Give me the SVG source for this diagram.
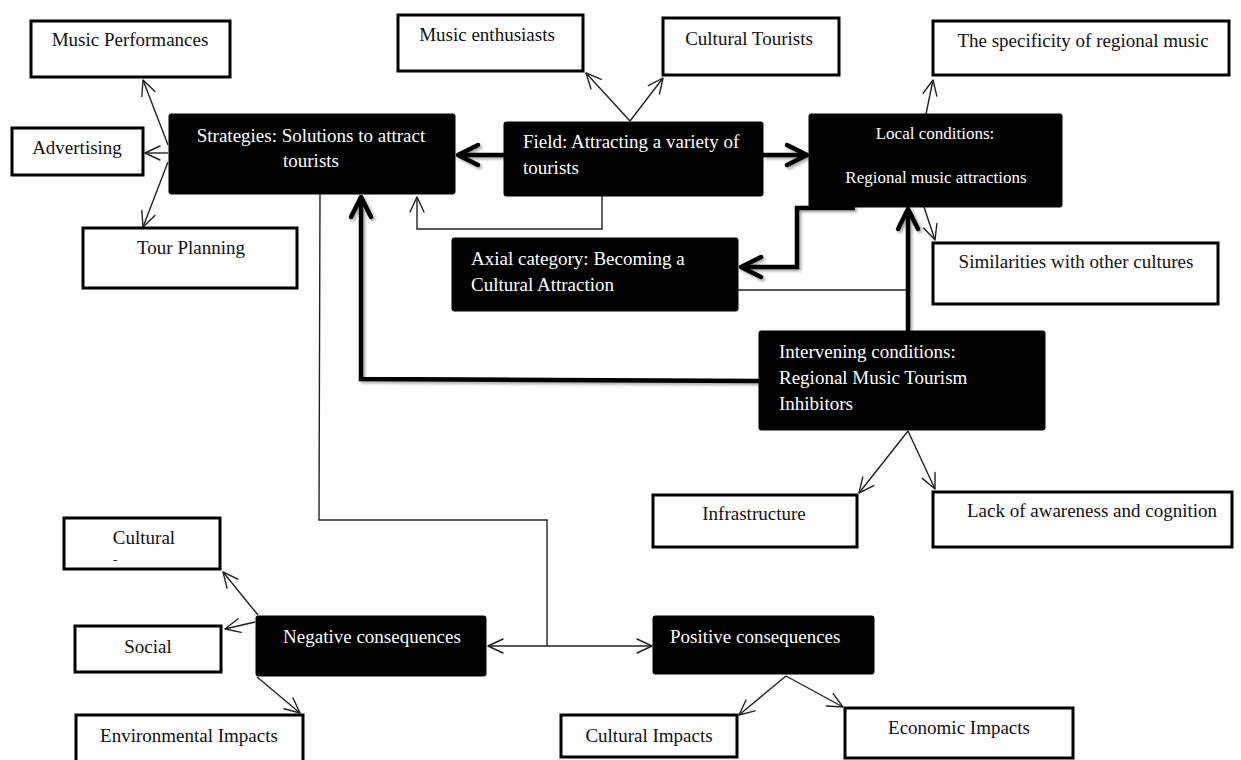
<svg xmlns="http://www.w3.org/2000/svg" width="1241" height="760" viewBox="0 0 1241 760">
<style>
  .wbox { fill: #ffffff; stroke: #000000; stroke-width: 3; }
  .bbox { fill: #000000; stroke: #000000; stroke-width: 1; }
  .t { font-family: "Liberation Serif", "Times New Roman", serif; font-size: 19px; fill: #111111; }
  .tw { font-family: "Liberation Serif", "Times New Roman", serif; font-size: 19px; fill: #ffffff; }
  .ts { font-size: 17px; }
  .c { text-anchor: middle; }
  .thin { fill: none; stroke: #222222; stroke-width: 1.4; }
  .thick { fill: none; stroke: #000000; stroke-width: 4.5; }
</style>
<defs>
  <marker id="ah" viewBox="-17 -10 20 20" markerWidth="20" markerHeight="20" refX="0" refY="0" markerUnits="userSpaceOnUse" orient="auto-start-reverse">
    <path d="M -15 -7 L 0 0 L -15 7" fill="none" stroke="#222222" stroke-width="1.4" stroke-linejoin="round" stroke-linecap="round"/>
  </marker>
  <marker id="ahk" viewBox="-26 -14 30 28" markerWidth="30" markerHeight="28" refX="0" refY="0" markerUnits="userSpaceOnUse" orient="auto">
    <path d="M -20 -10 L 0 0 L -20 10" fill="none" stroke="#000000" stroke-width="4.5" stroke-linejoin="round" stroke-linecap="round"/>
  </marker>
  <filter id="sh" x="-20%" y="-20%" width="140%" height="140%">
    <feDropShadow dx="2" dy="2" stdDeviation="1.5" flood-color="#000000" flood-opacity="0.35"/>
  </filter>
</defs>

<g id="connectors">
  <!-- Strategies to its children -->
  <line class="thin" x1="168" y1="145" x2="143" y2="80" marker-end="url(#ah)"/>
  <line class="thin" x1="168" y1="153" x2="145" y2="153" marker-end="url(#ah)"/>
  <line class="thin" x1="168" y1="162" x2="143" y2="227" marker-end="url(#ah)"/>
  <!-- Field to its children -->
  <line class="thin" x1="630" y1="121" x2="586" y2="73" marker-end="url(#ah)"/>
  <line class="thin" x1="630" y1="121" x2="663" y2="78" marker-end="url(#ah)"/>
  <!-- Field bottom back to Strategies -->
  <path class="thin" d="M 602 196 L 602 229 L 417 229 L 417 197" marker-end="url(#ah)"/>
  <!-- Local conditions to its children -->
  <line class="thin" x1="926" y1="114" x2="933" y2="80" marker-end="url(#ah)"/>
  <line class="thin" x1="924" y1="207" x2="935" y2="240" marker-end="url(#ah)"/>
  <!-- Axial to intervening vertical -->
  <line class="thin" x1="738" y1="290" x2="908" y2="290"/>
  <!-- Intervening to children -->
  <line class="thin" x1="908" y1="431" x2="859" y2="493" marker-end="url(#ah)"/>
  <line class="thin" x1="908" y1="431" x2="935" y2="489" marker-end="url(#ah)"/>
  <!-- Strategies down to consequences -->
  <path class="thin" d="M 320 194 L 319 520 L 547 520 L 547 646"/>
  <line class="thin" x1="488" y1="646" x2="652" y2="646" marker-start="url(#ah)" marker-end="url(#ah)"/>
  <!-- Negative consequences children -->
  <line class="thin" x1="258" y1="615" x2="223" y2="572" marker-end="url(#ah)"/>
  <line class="thin" x1="255" y1="622" x2="225" y2="629" marker-end="url(#ah)"/>
  <line class="thin" x1="257" y1="677" x2="300" y2="713" marker-end="url(#ah)"/>
  <!-- Positive consequences children -->
  <line class="thin" x1="786" y1="676" x2="739" y2="715" marker-end="url(#ah)"/>
  <line class="thin" x1="786" y1="676" x2="843" y2="707" marker-end="url(#ah)"/>
  <!-- Thick connectors -->
  <g filter="url(#sh)">
    <line class="thick" x1="504" y1="155" x2="458" y2="155" marker-end="url(#ahk)"/>
    <line class="thick" x1="763" y1="155" x2="807" y2="155" marker-end="url(#ahk)"/>
    <path class="thick" d="M 855 208 L 797 208 L 797 267 L 741 267" marker-end="url(#ahk)"/>
    <line class="thick" x1="908" y1="331" x2="908" y2="209" marker-end="url(#ahk)"/>
    <path class="thick" d="M 759 381 L 361 379 L 361 197" marker-end="url(#ahk)"/>
  </g>
</g>

<g id="music-performances">
  <rect class="wbox" x="31" y="21" width="199" height="56"/>
  <text class="t c" x="130" y="46">Music Performances</text>
</g>
<g id="advertising">
  <rect class="wbox" x="12" y="128" width="131" height="47"/>
  <text class="t c" x="77" y="154">Advertising</text>
</g>
<g id="tour-planning">
  <rect class="wbox" x="83" y="228" width="214" height="60"/>
  <text class="t c" x="191" y="254">Tour Planning</text>
</g>
<g id="strategies">
  <rect class="bbox" x="169" y="114" width="286" height="80" rx="2"/>
  <text class="tw c" x="311" y="142">Strategies: Solutions to attract</text>
  <text class="tw c" x="311" y="167">tourists</text>
</g>
<g id="music-enthusiasts">
  <rect class="wbox" x="398" y="15" width="185" height="56"/>
  <text class="t c" x="487" y="41">Music enthusiasts</text>
</g>
<g id="cultural-tourists">
  <rect class="wbox" x="663" y="18" width="176" height="57"/>
  <text class="t c" x="749" y="45">Cultural Tourists</text>
</g>
<g id="field">
  <rect class="bbox" x="504" y="122" width="259" height="74" rx="2"/>
  <text class="tw" x="523" y="148">Field: Attracting a variety of</text>
  <text class="tw" x="523" y="174">tourists</text>
</g>
<g id="specificity">
  <rect class="wbox" x="933" y="21" width="296" height="54"/>
  <text class="t c" x="1083" y="47">The specificity of regional music</text>
</g>
<g id="local-conditions">
  <rect class="bbox" x="809" y="114" width="253" height="93" rx="2"/>
  <text class="tw ts c" x="935" y="139">Local conditions:</text>
  <text class="tw ts c" x="936" y="183">Regional music attractions</text>
</g>
<g id="similarities">
  <rect class="wbox" x="933" y="243" width="285" height="61"/>
  <text class="t c" x="1076" y="268">Similarities with other cultures</text>
</g>
<g id="axial-category">
  <rect class="bbox" x="452" y="238" width="286" height="73" rx="2"/>
  <text class="tw" x="471" y="265">Axial category: Becoming a</text>
  <text class="tw" x="471" y="291">Cultural Attraction</text>
</g>
<g id="intervening-conditions">
  <rect class="bbox" x="759" y="331" width="286" height="99" rx="2"/>
  <text class="tw" x="779" y="358">Intervening conditions:</text>
  <text class="tw" x="779" y="384">Regional Music Tourism</text>
  <text class="tw" x="779" y="410">Inhibitors</text>
</g>
<g id="infrastructure">
  <rect class="wbox" x="653" y="495" width="204" height="52"/>
  <text class="t c" x="754" y="520">Infrastructure</text>
</g>
<g id="lack-of-awareness">
  <rect class="wbox" x="933" y="492" width="299" height="55"/>
  <text class="t c" x="1092" y="517">Lack of awareness and cognition</text>
</g>
<g id="cultural">
  <rect class="wbox" x="64" y="518" width="156" height="51"/>
  <text class="t c" x="144" y="544">Cultural</text>
  <text class="t" x="113" y="564" style="font-size:13px">-</text>
</g>
<g id="social">
  <rect class="wbox" x="75" y="626" width="146" height="46"/>
  <text class="t c" x="148" y="653">Social</text>
</g>
<g id="environmental-impacts">
  <rect class="wbox" x="76" y="715" width="227" height="60"/>
  <text class="t c" x="189" y="742">Environmental Impacts</text>
</g>
<g id="negative-consequences">
  <rect class="bbox" x="256" y="616" width="230" height="60" rx="2"/>
  <text class="tw c" x="372" y="643">Negative consequences</text>
</g>
<g id="positive-consequences">
  <rect class="bbox" x="653" y="616" width="221" height="58" rx="2"/>
  <text class="tw" x="670" y="643">Positive consequences</text>
</g>
<g id="cultural-impacts">
  <rect class="wbox" x="561" y="715" width="176" height="42"/>
  <text class="t c" x="649" y="742">Cultural Impacts</text>
</g>
<g id="economic-impacts">
  <rect class="wbox" x="845" y="708" width="228" height="50"/>
  <text class="t c" x="959" y="734">Economic Impacts</text>
</g>
</svg>
